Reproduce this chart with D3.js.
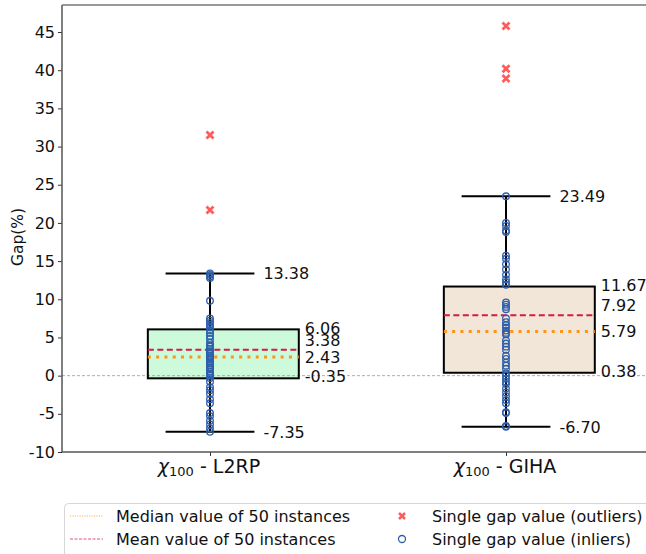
<!DOCTYPE html>
<html>
<head>
<meta charset="utf-8">
<script src="https://cdn.jsdelivr.net/npm/d3@7"></script>
<style>
  body { margin: 0; background: #fff; }
  svg { display: block; font-family: "DejaVu Sans", sans-serif; }
</style>
</head>
<body>
<svg></svg>
<script>
const width = 646;
const height = 554;

// data
const categories = ["L2RP", "GIHA"];
const inliersL2RP = [-7.35, -6.9, -6.4, -5.9, -5.3, -4.9, -3.6, -3.1, -2.4, -1.9, -1.5, -0.8,
  -0.3, 0.0, 0.2, 0.3, 0.5, 0.8, 1.0, 1.1, 1.4, 1.7, 1.9, 2.1, 2.3, 2.4,
  2.6, 2.9, 3.0, 3.2, 3.5, 3.8, 4.0, 4.3, 4.8, 5.2, 5.6, 5.9,
  6.3, 6.6, 6.9, 7.2, 7.5, 9.8, 12.8, 13.0, 13.2, 13.38];
const inliersGIHA = [-6.70, -6.6, -4.9, -4.8, -3.6, -3.2, -2.7, -2.2, -1.7,
  -1.1, -0.8, -0.4, 0.0, 0.3, 0.9, 1.3, 1.7, 2.2, 2.6, 3.4, 3.8, 4.2, 4.6,
  5.4, 5.6, 5.9, 6.3, 6.6, 7.0, 7.5, 8.7, 9.0, 9.3, 9.6,
  11.9, 12.2, 12.6, 13.2, 13.9, 14.6, 15.3, 15.7, 18.8, 19.0, 19.6, 20.0, 23.49];
const outliersL2RP = [31.5, 21.7];
const outliersGIHA = [45.8, 40.2, 38.9];
const q1 = [-0.35, 0.38];
const q3 = [6.06, 11.67];
const medians = [2.43, 5.79];
const means = [3.38, 7.92];
const whiskLow = [-7.35, -6.70];
const whiskHigh = [13.38, 23.49];
const yTicks = [-10, -5, 0, 5, 10, 15, 20, 25, 30, 35, 40, 45];
const legendLabels = ["Median value of 50 instances", "Mean value of 50 instances",
  "Single gap value (outliers)", "Single gap value (inliers)"];

const inliers = [inliersL2RP, inliersGIHA];
const outliers = [outliersL2RP, outliersGIHA];

const plotLeft = 62, plotTop = 5, plotBottom = 452;

const colBox = ["#ccfadb", "#f2e6d8"];
const colMedian = "#ff9419";
const colMean = "#d41a4a";
const colIn = "#2e5fac";
const colOut = "#ff5c5c";

let svg = d3.select("svg")
  .attr("width", width)
  .attr("height", height);

let x = d3.scaleLinear().domain([0.5, 2.5]).range([plotLeft, 654]);
let y = d3.scaleLinear().domain([-10, 48.54]).range([plotBottom, plotTop]);
const pos = i => i + 1;

// axes
let axisY = svg.append("g")
  .attr("transform", `translate(${plotLeft},0)`)
  .call(d3.axisLeft(y).tickValues(yTicks).tickFormat(d => String(d)).tickSize(4).tickPadding(3));
axisY.select(".domain").remove();
axisY.selectAll("line").attr("stroke", "#333");
axisY.selectAll("text").attr("font-size", 16).attr("fill", "#111").attr("font-family", "DejaVu Sans");

let axisX = svg.append("g")
  .attr("transform", `translate(0,${plotBottom})`)
  .call(d3.axisBottom(x).tickValues([1, 2]).tickFormat("").tickSize(4));
axisX.select(".domain").remove();
axisX.selectAll("line").attr("stroke", "#333");

// x tick labels with subscript
categories.forEach((c, i) => {
  let t = svg.append("text")
    .attr("x", x(pos(i)) - 1)
    .attr("y", 473)
    .attr("text-anchor", "middle")
    .attr("font-size", 19)
    .attr("fill", "#111");
  t.append("tspan").attr("font-style", "italic").text("χ");
  t.append("tspan").attr("font-size", 13).attr("dy", 3).text("100");
  t.append("tspan").attr("dy", -3).text(" - " + c);
});

svg.append("text")
  .attr("transform", `translate(23,237) rotate(-90)`)
  .attr("text-anchor", "middle")
  .attr("font-size", 15.5)
  .attr("fill", "#111")
  .text("Gap(%)");

// boxes
const boxL = -0.21, boxR = 0.3, capW = 0.15;
categories.forEach((c, i) => {
  svg.append("rect")
    .attr("x", x(pos(i) + boxL))
    .attr("y", y(q3[i]))
    .attr("width", x(pos(i) + boxR) - x(pos(i) + boxL))
    .attr("height", y(q1[i]) - y(q3[i]))
    .attr("fill", colBox[i]);
});

// zero line
svg.append("line")
  .attr("x1", plotLeft).attr("x2", width)
  .attr("y1", y(0)).attr("y2", y(0))
  .attr("stroke", "#999").attr("stroke-width", 0.8)
  .attr("stroke-dasharray", "3,2");

categories.forEach((c, i) => {
  let cx = x(pos(i));
  svg.append("rect")
    .attr("x", x(pos(i) + boxL))
    .attr("y", y(q3[i]))
    .attr("width", x(pos(i) + boxR) - x(pos(i) + boxL))
    .attr("height", y(q1[i]) - y(q3[i]))
    .attr("fill", "none")
    .attr("stroke", "#000").attr("stroke-width", 2);
  // whiskers
  [[q3[i], whiskHigh[i]], [q1[i], whiskLow[i]]].forEach(w => {
    svg.append("line")
      .attr("x1", cx).attr("x2", cx)
      .attr("y1", y(w[0])).attr("y2", y(w[1]))
      .attr("stroke", "#000").attr("stroke-width", 2);
    svg.append("line")
      .attr("x1", x(pos(i) - capW)).attr("x2", x(pos(i) + capW))
      .attr("y1", y(w[1])).attr("y2", y(w[1]))
      .attr("stroke", "#000").attr("stroke-width", 2);
  });
  // median, mean
  svg.append("line")
    .attr("x1", x(pos(i) + boxL)).attr("x2", x(pos(i) + boxR))
    .attr("y1", y(means[i])).attr("y2", y(means[i]))
    .attr("stroke", colMean).attr("stroke-width", 2)
    .attr("stroke-dasharray", "6,3.5");
  svg.append("line")
    .attr("x1", x(pos(i) + boxL)).attr("x2", x(pos(i) + boxR))
    .attr("y1", y(medians[i])).attr("y2", y(medians[i]))
    .attr("stroke", colMedian).attr("stroke-width", 3)
    .attr("stroke-dasharray", "3,5.3");
});

// points
categories.forEach((c, i) => {
  svg.selectAll(".in" + i)
    .data(inliers[i])
    .enter().append("circle")
    .attr("cx", x(pos(i)))
    .attr("cy", d => y(d))
    .attr("r", 3.3)
    .attr("fill", "none")
    .attr("stroke", colIn)
    .attr("stroke-width", 1.3);

  svg.selectAll(".out" + i)
    .data(outliers[i])
    .enter().append("path")
    .attr("transform", d => `translate(${x(pos(i))},${y(d)})`)
    .attr("d", "M-3.5,-3.5L3.5,3.5M-3.5,3.5L3.5,-3.5")
    .attr("stroke", colOut)
    .attr("stroke-width", 2.8);
});

// value labels
categories.forEach((c, i) => {
  let bx = x(pos(i) + boxR) + 6;
  let wx = x(pos(i) + capW) + 9;
  let labels = [
    {v: whiskHigh[i], x: wx, dy: 0},
    {v: q3[i], x: bx, dy: -1},
    {v: means[i], x: bx, dy: -10},
    {v: medians[i], x: bx, dy: 0},
    {v: q1[i], x: bx, dy: -2},
    {v: whiskLow[i], x: wx, dy: 0}
  ];
  svg.selectAll(".lab" + i)
    .data(labels)
    .enter().append("text")
    .attr("x", d => d.x)
    .attr("y", d => y(d.v) + d.dy)
    .attr("dy", "0.36em")
    .attr("font-size", 16)
    .attr("fill", "#111")
    .text(d => d.v.toFixed(2));
});

// frame spines
svg.append("line")
  .attr("x1", plotLeft).attr("x2", plotLeft)
  .attr("y1", plotTop).attr("y2", plotBottom)
  .attr("stroke", "#555").attr("stroke-width", 1.5);
svg.append("line")
  .attr("x1", plotLeft).attr("x2", width)
  .attr("y1", plotBottom).attr("y2", plotBottom)
  .attr("stroke", "#555").attr("stroke-width", 1.5);
svg.append("line")
  .attr("x1", plotLeft).attr("x2", width)
  .attr("y1", plotTop).attr("y2", plotTop)
  .attr("stroke", "#777").attr("stroke-width", 1.5);

// legend
let legend = svg.append("g");
legend.append("rect")
  .attr("x", 64.5).attr("y", 503.5)
  .attr("width", 600).attr("height", 70)
  .attr("rx", 4)
  .attr("fill", "#fff")
  .attr("stroke", "#d6d6d6");

const rowY = [516, 539];
legend.append("line")
  .attr("x1", 70).attr("x2", 103).attr("y1", rowY[0]).attr("y2", rowY[0])
  .attr("stroke", "#ffb35c").attr("stroke-width", 1.2).attr("stroke-dasharray", "1.2,1.2");
legend.append("line")
  .attr("x1", 70).attr("x2", 103).attr("y1", rowY[1]).attr("y2", rowY[1])
  .attr("stroke", "#e0527a").attr("stroke-width", 1.2).attr("stroke-dasharray", "3,1.5");
legend.append("path")
  .attr("transform", `translate(402,${rowY[0]})`)
  .attr("d", "M-3,-3L3,3M-3,3L3,-3")
  .attr("stroke", colOut).attr("stroke-width", 2.5);
legend.append("circle")
  .attr("cx", 402).attr("cy", rowY[1]).attr("r", 3.5)
  .attr("fill", "none").attr("stroke", colIn).attr("stroke-width", 1.3);

legend.selectAll(".ltext")
  .data(legendLabels)
  .enter().append("text")
  .attr("x", (d, i) => i < 2 ? 116 : 432)
  .attr("y", (d, i) => rowY[i % 2])
  .attr("dy", "0.36em")
  .attr("font-size", 16)
  .attr("fill", "#111")
  .text(d => d);
</script>
</body>
</html>
